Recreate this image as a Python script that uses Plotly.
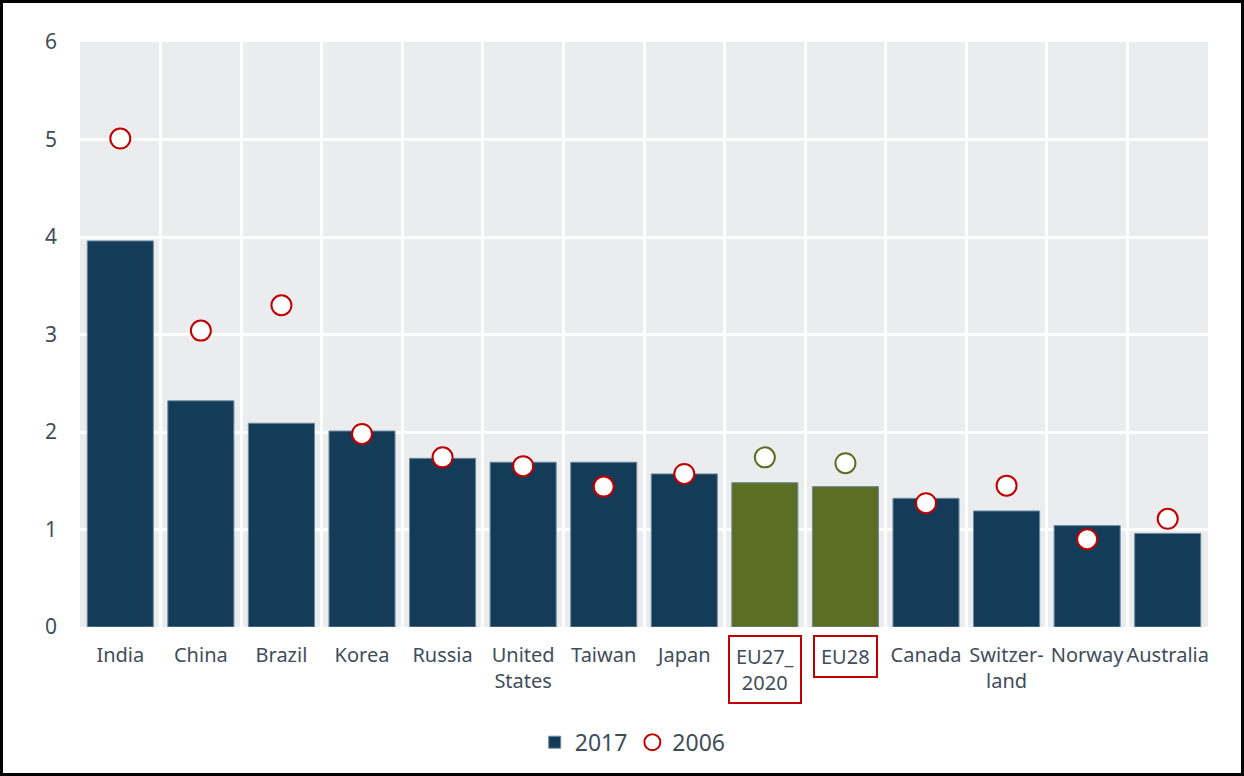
import plotly.graph_objects as go

# Data
countries = ["India", "China", "Brazil", "Korea", "Russia", "United States", "Taiwan",
             "Japan", "EU27_2020", "EU28", "Canada", "Switzerland", "Norway", "Australia"]
tick_labels = ["India", "China", "Brazil", "Korea", "Russia", "United<br>States", "Taiwan",
               "Japan", "EU27_<br>2020", "EU28", "Canada", "Switzer-<br>land", "Norway", "Australia"]
values_2017 = [3.96, 2.32, 2.09, 2.01, 1.73, 1.69, 1.69, 1.57, 1.48, 1.44, 1.32, 1.19, 1.04, 0.96]
values_2006 = [5.01, 3.04, 3.30, 1.98, 1.74, 1.65, 1.44, 1.57, 1.74, 1.68, 1.27, 1.45, 0.90, 1.11]
highlighted = ["EU27_2020", "EU28"]

W, H = 1244, 776
ML, MR, MT, MB = 80, 36, 42, 149
PW, PH = W - ML - MR, H - MT - MB

NAVY = "#143c59"
OLIVE = "#5c6e23"
RED = "#c00000"
TEXT = "#3f4d5a"
FONT = "Noto Sans"

bar_colors = [OLIVE if c in highlighted else NAVY for c in countries]
ring_colors = [OLIVE if c in highlighted else RED for c in countries]
shown_ticks = ["" if c in highlighted else t for c, t in zip(countries, tick_labels)]

fig = go.Figure()

fig.add_trace(go.Bar(
    x=countries, y=values_2017, name="2017",
    marker=dict(color=bar_colors, line=dict(color="#6d8aa0", width=1)),
    width=0.82,
))

fig.add_trace(go.Scatter(
    x=countries, y=values_2006, name="2006", mode="markers",
    marker=dict(symbol="circle", size=20, color="white",
                line=dict(color=ring_colors, width=2)),
))

# boxed labels for the EU aggregates
for c, t in zip(countries, tick_labels):
    if c in highlighted:
        fig.add_annotation(
            x=c, xref="x", y=-0.0137, yref="paper", yanchor="top",
            text=t, showarrow=False,
            font=dict(family=FONT, size=20, color=TEXT),
            bordercolor=RED, borderwidth=2, borderpad=6,
        )

# outer frame around the whole image
fig.add_shape(
    type="rect", xref="paper", yref="paper",
    x0=(1.5 - ML) / PW, x1=(W - 1.5 - ML) / PW,
    y0=(PH + MT - (H - 1.5)) / PH, y1=(PH + MT - 1.5) / PH,
    line=dict(color="black", width=3), layer="above",
)

fig.update_layout(
    width=W, height=H,
    margin=dict(l=ML, r=MR, t=MT, b=MB),
    paper_bgcolor="white", plot_bgcolor="#ebecee",
    font=dict(family=FONT, size=20, color=TEXT),
    bargap=0.18,
    showlegend=True,
    legend=dict(orientation="h", x=0.49, xanchor="center", y=-0.197, yanchor="middle",
                font=dict(size=23, color=TEXT), itemwidth=30, traceorder="normal",
                bgcolor="rgba(0,0,0,0)"),
)

fig.update_xaxes(
    type="category", tickson="boundaries", tickvals=countries, ticktext=shown_ticks,
    tickangle=0, showgrid=True, gridcolor="white", gridwidth=3, ticks="", showline=False,
    zeroline=False, range=[-0.5, len(countries) - 0.5], ticklabelstandoff=14,
)
fig.update_yaxes(
    range=[0, 6], dtick=1, showgrid=True, gridcolor="white", gridwidth=3,
    zeroline=False, showline=False, ticks="", ticklabelstandoff=22,
    tickfont=dict(size=21),
)

fig.write_html("out.html", config={"displayModeBar": False},
               post_script="document.body.style.margin='0';")
